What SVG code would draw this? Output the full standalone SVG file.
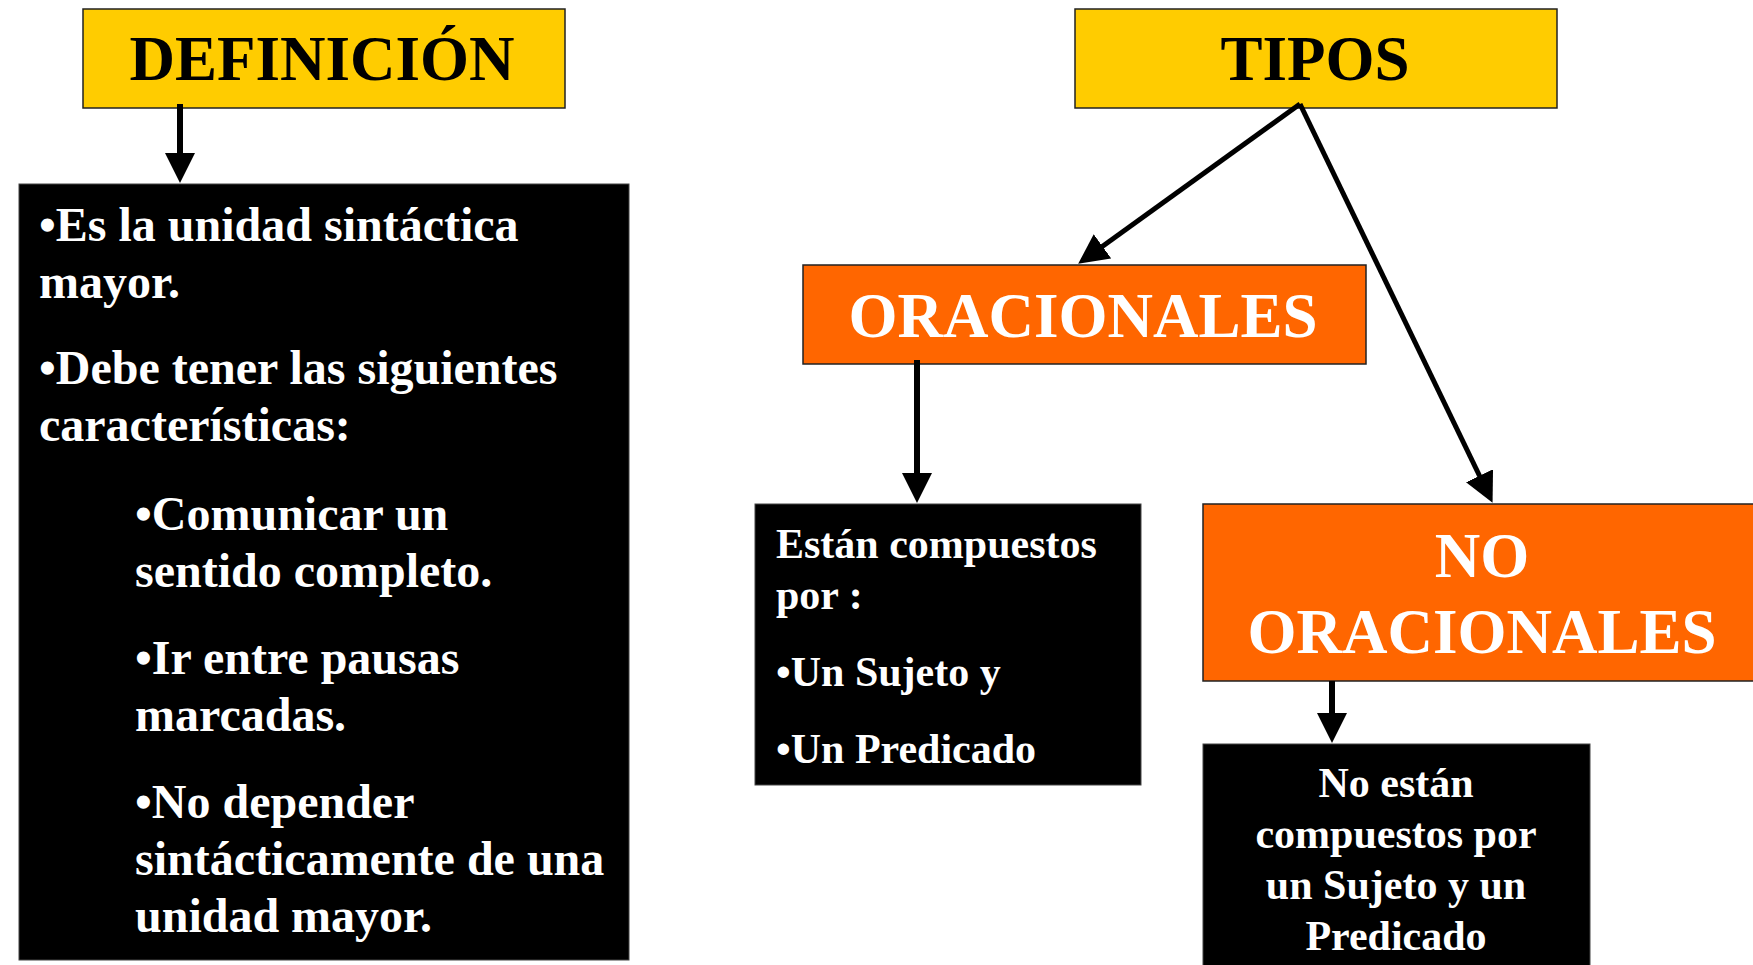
<svg xmlns="http://www.w3.org/2000/svg" width="1753" height="965" viewBox="0 0 1753 965">
<style>
.yel{fill:#FFCC00;stroke:#222;stroke-width:1.5}
.org{fill:#FF6600;stroke:#222;stroke-width:1.5}
.blk{fill:#000;stroke:#444;stroke-width:1}
.t{font-family:"Liberation Serif","Times New Roman",serif;font-weight:bold}
.title{font-size:63px;text-anchor:middle}
.dark{fill:#000}
.wh{fill:#fff}
.body48{font-size:48px}
.body42{font-size:42px}
.mid{text-anchor:middle}
.edge{fill:none;stroke:#000}
.v{stroke-width:6}
.d{stroke-width:5}
</style>
<defs>
<marker id="ah" markerUnits="userSpaceOnUse" markerWidth="30" markerHeight="30" viewBox="0 0 30 30" refX="8" refY="15" orient="auto">
<path d="M0,0 L30,15 L0,30 Z" fill="#000"/>
</marker>
</defs>
<rect width="1753" height="965" fill="#fff"/>
<g id="definicion">
<rect class="yel" x="83" y="9" width="482" height="99"/>
<text class="t title dark" x="322" y="80">DEFINICIÓN</text>
</g>
<g id="definicion-texto">
<rect class="blk" x="19" y="184" width="610" height="776"/>
<g class="t body48 wh">
<text x="39" y="241">•Es la unidad sintáctica</text>
<text x="39" y="298">mayor.</text>
<text x="39" y="384">•Debe tener las siguientes</text>
<text x="39" y="441">características:</text>
<text x="135" y="530">•Comunicar un</text>
<text x="135" y="587">sentido completo.</text>
<text x="135" y="674">•Ir entre pausas</text>
<text x="135" y="731">marcadas.</text>
<text x="135" y="818">•No depender</text>
<text x="135" y="875">sintácticamente de una</text>
<text x="135" y="932">unidad mayor.</text>
</g>
</g>
<g id="tipos">
<rect class="yel" x="1075" y="9" width="482" height="99"/>
<text class="t title dark" x="1315" y="80">TIPOS</text>
</g>
<g id="oracionales">
<rect class="org" x="803" y="265" width="563" height="99"/>
<text class="t title wh" x="1083" y="337">ORACIONALES</text>
</g>
<g id="oracionales-texto">
<rect class="blk" x="755" y="504" width="386" height="281"/>
<g class="t body42 wh">
<text x="776" y="558">Están compuestos</text>
<text x="776" y="609">por :</text>
<text x="776" y="686">•Un Sujeto y</text>
<text x="776" y="763">•Un Predicado</text>
</g>
</g>
<g id="no-oracionales">
<rect class="org" x="1203" y="504" width="560" height="177"/>
<text class="t title wh" x="1482" y="577">NO</text>
<text class="t title wh" x="1482" y="653">ORACIONALES</text>
</g>
<g id="no-oracionales-texto">
<rect class="blk" x="1203" y="744" width="387" height="230"/>
<g class="t body42 wh mid">
<text x="1396" y="797">No están</text>
<text x="1396" y="848">compuestos por</text>
<text x="1396" y="899">un Sujeto y un</text>
<text x="1396" y="950">Predicado</text>
</g>
</g>
<g id="connectors">
<line class="edge v" x1="180" y1="104" x2="180" y2="161" marker-end="url(#ah)"/>
<line class="edge d" x1="1300" y1="104" x2="1096" y2="251" marker-end="url(#ah)"/>
<line class="edge d" x1="1300" y1="104" x2="1483" y2="483" marker-end="url(#ah)"/>
<line class="edge v" x1="917" y1="360" x2="917" y2="481" marker-end="url(#ah)"/>
<line class="edge v" x1="1332" y1="681" x2="1332" y2="721" marker-end="url(#ah)"/>
</g>
</svg>
